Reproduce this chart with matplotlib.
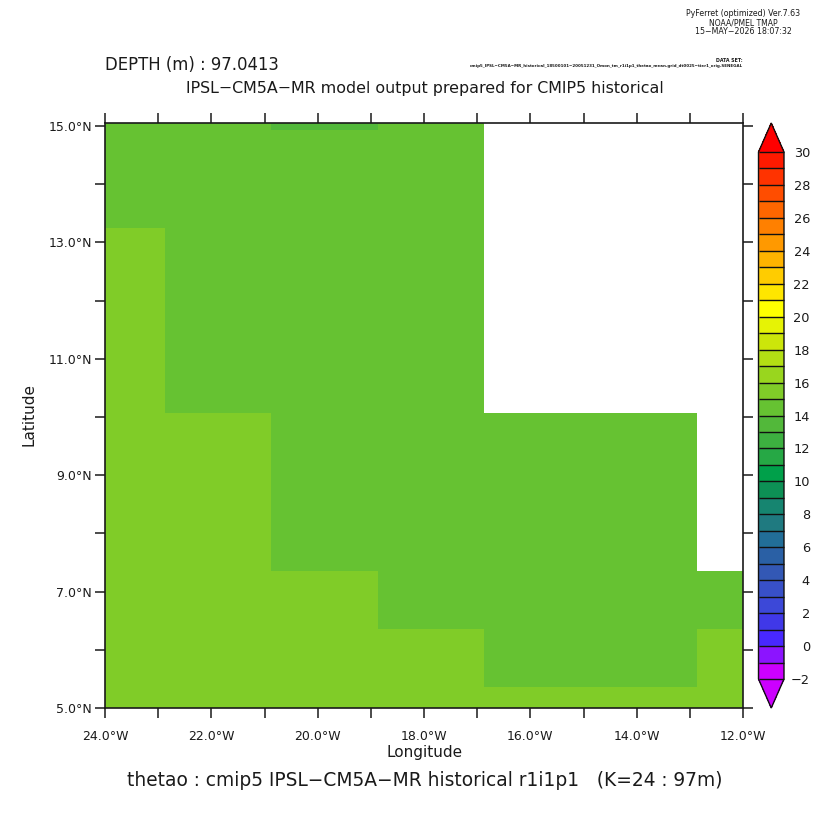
import numpy as np
import matplotlib
matplotlib.use("Agg")
import matplotlib.pyplot as plt
from matplotlib.colors import ListedColormap, BoundaryNorm
from matplotlib.ticker import MultipleLocator, FixedLocator

SIZE = 832

lon_edges = [-24.0, -22.87, -20.87, -18.87, -16.87, -14.87, -12.87, -12.0]
lat_edges = [5.0, 5.36, 6.36, 7.36, 8.36, 9.2, 10.07, 11.1, 12.2, 13.25, 14.93, 15.06]

NA = np.nan
thetao = [
    [15.5, 15.5, 15.5, 15.5, 15.5, 15.5, 15.5],
    [15.5, 15.5, 15.5, 15.5, 14.5, 14.5, 15.5],
    [15.5, 15.5, 15.5, 14.5, 14.5, 14.5, 14.5],
    [15.5, 15.5, 14.5, 14.5, 14.5, 14.5, NA],
    [15.5, 15.5, 14.5, 14.5, 14.5, 14.5, NA],
    [15.5, 15.5, 14.5, 14.5, 14.5, 14.5, NA],
    [15.5, 14.5, 14.5, 14.5, NA, NA, NA],
    [15.5, 14.5, 14.5, 14.5, NA, NA, NA],
    [15.5, 14.5, 14.5, 14.5, NA, NA, NA],
    [14.5, 14.5, 14.5, 14.5, NA, NA, NA],
    [14.5, 14.5, 13.5, 14.5, NA, NA, NA],
]

levels = list(range(-2, 31))
level_colors = [
    "#cc00ff", "#8c14ff", "#4828ff", "#4038e8", "#3c48d8", "#3850c8", "#3358b5", "#2a60a5",
    "#226e98", "#1f7a80", "#168570", "#0d9055", "#00a04a", "#26a845", "#3db040", "#52b83a",
    "#66c232", "#80cc28", "#99d61e", "#b3df14", "#cce60a", "#e6f305", "#ffff00", "#ffe600",
    "#ffcc00", "#ffb300", "#ff9900", "#ff8000", "#ff6600", "#ff4d00", "#ff3300", "#ff1a00",
]
lon_ticks = [-24, -22, -20, -18, -16, -14, -12]
lon_labels = ["24.0°W", "22.0°W", "20.0°W", "18.0°W", "16.0°W", "14.0°W", "12.0°W"]
lat_ticks = [5, 7, 9, 11, 13, 15]
lat_labels = ["5.0°N", "7.0°N", "9.0°N", "11.0°N", "13.0°N", "15.0°N"]
cbar_ticks = list(range(-2, 31, 2))

INK = "#1a1a1a"


def px_box(left, top, right, bottom):
    # pixel box of the picture to figure fractions
    return [left / SIZE, 1 - bottom / SIZE, (right - left) / SIZE, (bottom - top) / SIZE]


def put_text(x, y, s, **kw):
    kw.setdefault("color", INK)
    kw.setdefault("va", "center")
    return fig.text(x / SIZE, 1 - y / SIZE, s, **kw)


plt.rcParams["font.family"] = ["DejaVu Sans"]
fig = plt.figure(figsize=(SIZE / 100, SIZE / 100), dpi=100)
ax = fig.add_axes(px_box(105, 122.5, 743, 708))

cmap = ListedColormap(level_colors)
cmap.set_over("#ff0000")
cmap.set_under("#cc00ff")
norm = BoundaryNorm(levels, cmap.N)
mesh = ax.pcolormesh(lon_edges, lat_edges, np.ma.masked_invalid(thetao), cmap=cmap, norm=norm)

ax.set_xlim(-24, -12)
ax.set_ylim(5, 15.06)
ax.set_xticks(lon_ticks, lon_labels)
ax.set_yticks(lat_ticks, lat_labels)
ax.xaxis.set_minor_locator(MultipleLocator(1))
ax.yaxis.set_minor_locator(MultipleLocator(1))
ax.tick_params(which="both", direction="out", length=7.5, width=1.1, color=INK,
               top=True, right=True, labelsize=9, labelcolor=INK)
ax.tick_params(axis="x", pad=8)
ax.tick_params(axis="y", pad=2)
for spine in ax.spines.values():
    spine.set_linewidth(1.2)
    spine.set_color(INK)

# axis titles placed by pixel, ferret does not follow the tick labels
put_text(425, 752, "Longitude", fontsize=11, ha="center")
put_text(29, 415, "Latitude", fontsize=11, ha="center", rotation=90)

# the box holds the triangles too, matplotlib shrinks the bar inside it
cax = fig.add_axes(px_box(758.5, 123, 784, 708))
cbar = fig.colorbar(mesh, cax=cax, extend="both", extendfrac=0.055, spacing="uniform",
                    drawedges=True, ticks=FixedLocator(cbar_ticks))
cbar.dividers.set_color("#111111")
cbar.dividers.set_linewidth(1.0)
cbar.outline.set_edgecolor("#111111")
cbar.outline.set_linewidth(1.0)
cax.minorticks_off()
cax.tick_params(axis="y", length=0, labelsize=9.3, labelcolor=INK, pad=18.7)
for lab in cax.get_yticklabels():
    lab.set_ha("right")

put_text(105, 65, "DEPTH (m) : 97.0413", fontsize=11.9, ha="left")
put_text(425, 89, "IPSL−CM5A−MR model output prepared for CMIP5 historical", fontsize=11.4, ha="center")
put_text(425, 781, "thetao : cmip5 IPSL−CM5A−MR historical r1i1p1   (K=24 : 97m)", fontsize=13.4, ha="center")

put_text(743, 14, "PyFerret (optimized) Ver.7.63", fontsize=5.7, ha="center")
put_text(743, 23, "NOAA/PMEL TMAP", fontsize=5.5, ha="center")
put_text(743, 32, "15−MAY−2026 18:07:32", fontsize=5.65, ha="center")
put_text(743, 61, "DATA SET:", fontsize=3.4, ha="right", fontweight="bold")
put_text(743, 66, "cmip5_IPSL−CM5A−MR_historical_18500101−20051231_Omon_tm_r1i1p1_thetao_mean.grid_dt0025−tier1_orig.SENEGAL",
         fontsize=2.93, ha="right", fontweight="bold")

fig.savefig("out.png", dpi=100, facecolor="white")
